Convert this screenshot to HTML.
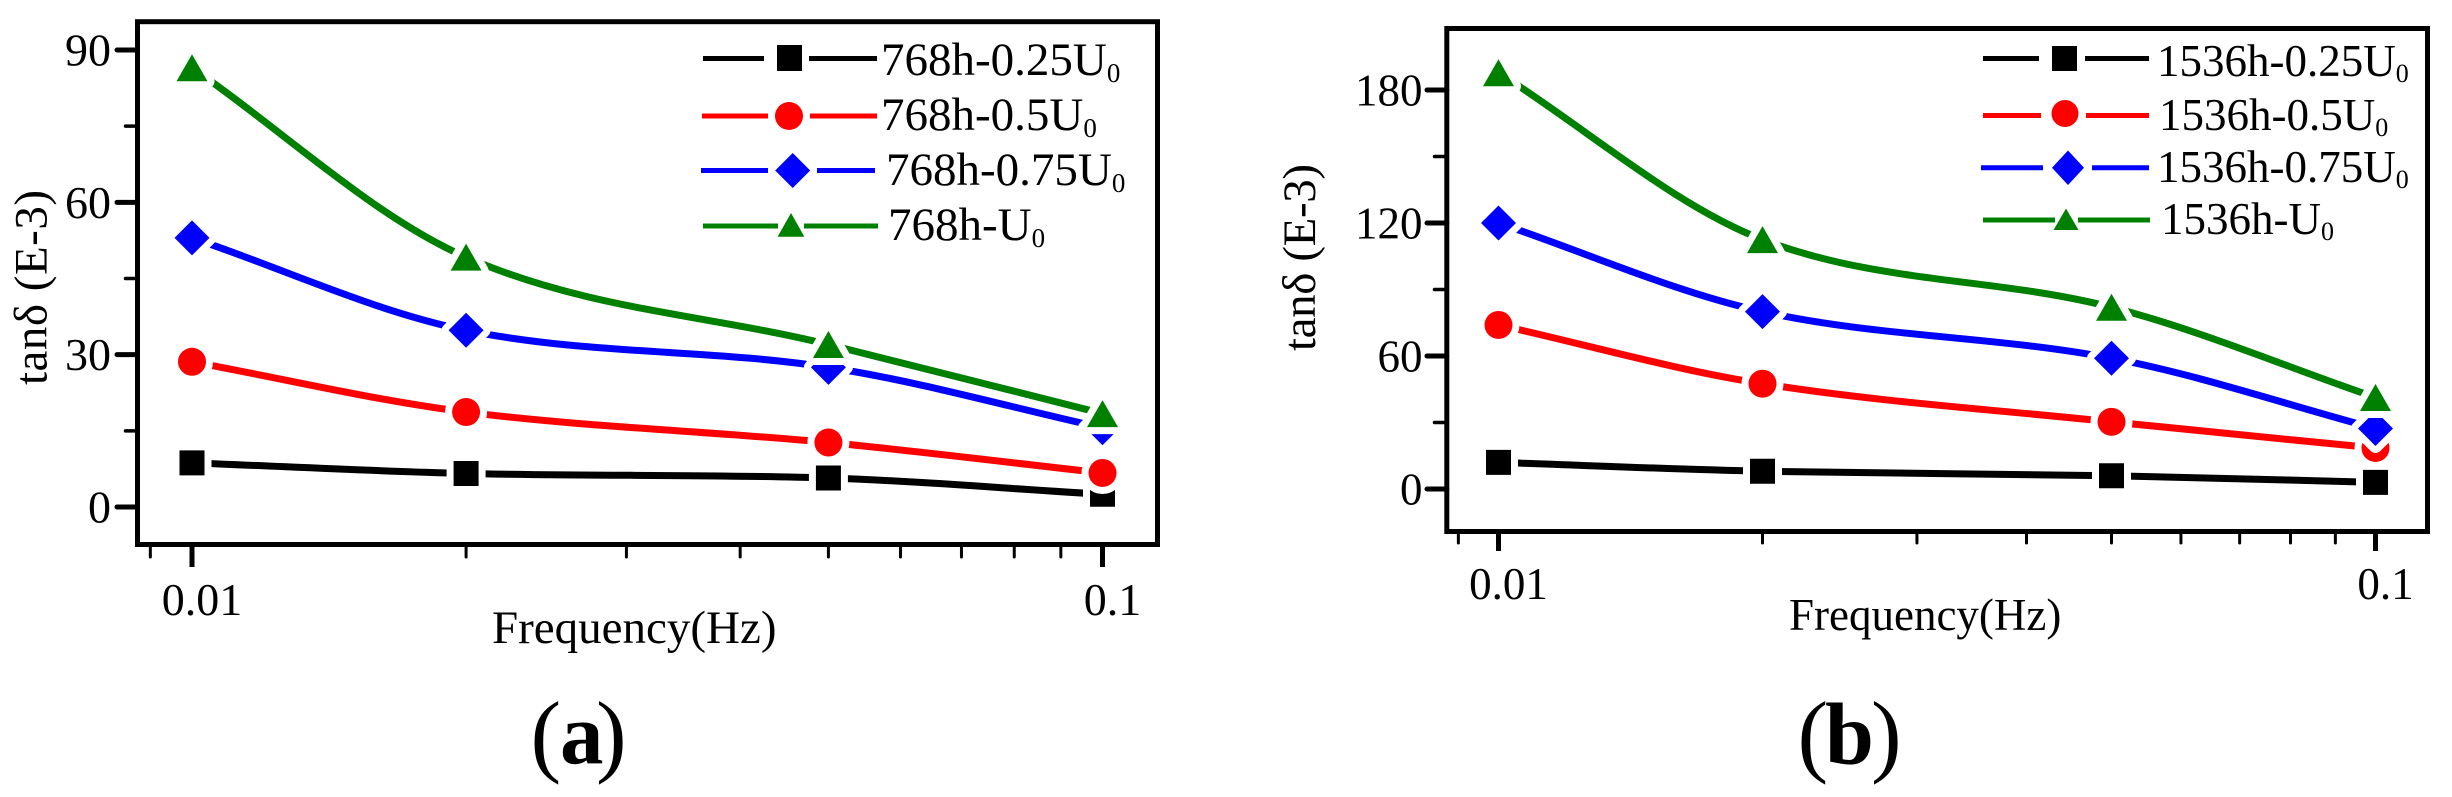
<!DOCTYPE html>
<html lang="en">
<head>
<meta charset="utf-8">
<title>tan delta versus frequency</title>
<style>
html,body{margin:0;padding:0;background:#fff;}
svg{display:block;}
text{font-family:"Liberation Serif",serif;fill:#000;}
</style>
</head>
<body>
<svg id="figure" xmlns="http://www.w3.org/2000/svg" width="2452" height="797" viewBox="0 0 2452 797">
  <rect width="2452" height="797" fill="#fff"/>
  <g id="panel-a"></g>
  <g id="panel-b"></g>

  <g>
    <text transform="translate(46.5,385) rotate(-90)" font-size="47" textLength="195" lengthAdjust="spacing">tanδ (E-3)</text>
    <text x="492" y="643" font-size="47">Frequency(Hz)</text>
    <text font-size="92"><tspan x="530.5" y="765">(</tspan><tspan x="560" y="763.5" font-size="87" font-weight="bold">a</tspan><tspan x="596" y="765">)</tspan></text>
  </g>
  <g>
    <text transform="translate(1315,351) rotate(-90)" font-size="47" textLength="187" lengthAdjust="spacing">tanδ (E-3)</text>
    <text x="1789" y="630" font-size="45">Frequency(Hz)</text>
    <text font-size="92"><tspan x="1797.5" y="765">(</tspan><tspan x="1825" y="763.5" font-size="88" font-weight="bold">b</tspan><tspan x="1871" y="765">)</tspan></text>
  </g>

  <g font-size="47">
    <g>
      <path d="M703 58.5H764M809 58.5H877" stroke="#000" stroke-width="5" fill="none"/>
      <rect x="777" y="45" width="25" height="26" fill="#000"/>
      <text x="881" y="75">768h-0.25U<tspan font-size="27" dy="7">0</tspan></text>
    </g>
    <g>
      <path d="M702 116H768M810 116H877" stroke="#f00" stroke-width="5" fill="none"/>
      <circle cx="789" cy="116" r="14" fill="#f00"/>
      <text x="881" y="130">768h-0.5U<tspan font-size="27" dy="7">0</tspan></text>
    </g>
    <g>
      <path d="M701 170.5H768M817 170.5H875" stroke="#00f" stroke-width="5" fill="none"/>
      <polygon points="792.7,153 810.2,170.5 792.7,188 775.2,170.5" fill="#00f"/>
      <text x="886" y="185">768h-0.75U<tspan font-size="27" dy="7">0</tspan></text>
    </g>
    <g>
      <path d="M703 226H778M804 226H878" stroke="#008000" stroke-width="5" fill="none"/>
      <polygon points="791,213 804.4,236.7 777.6,236.7" fill="#008000"/>
      <text x="888" y="240">768h-U<tspan font-size="27" dy="7">0</tspan></text>
    </g>
  </g>

  <g font-size="45">
    <g>
      <path d="M1983 58.5H2039M2085 58.5H2149" stroke="#000" stroke-width="5" fill="none"/>
      <rect x="2052" y="46" width="25" height="25" fill="#000"/>
      <text x="2157" y="76">1536h-0.25U<tspan font-size="26" dy="6">0</tspan></text>
    </g>
    <g>
      <path d="M1983 115.5H2041M2086 115.5H2149" stroke="#f00" stroke-width="5" fill="none"/>
      <circle cx="2065" cy="113.5" r="13.5" fill="#f00"/>
      <text x="2159" y="130">1536h-0.5U<tspan font-size="26" dy="6">0</tspan></text>
    </g>
    <g>
      <path d="M1981 167.8H2043M2092 167.8H2149" stroke="#00f" stroke-width="5" fill="none"/>
      <polygon points="2068,150.5 2084,167.8 2068,185 2052,167.8" fill="#00f"/>
      <text x="2157" y="182">1536h-0.75U<tspan font-size="26" dy="6">0</tspan></text>
    </g>
    <g>
      <path d="M1983 220H2055M2078 220H2150" stroke="#008000" stroke-width="5" fill="none"/>
      <polygon points="2066,208.5 2078.5,230 2053.5,230" fill="#008000"/>
      <text x="2161" y="234">1536h-U<tspan font-size="26" dy="6">0</tspan></text>
    </g>
  </g>
</svg>
<script>
var frequencies = [0.01, 0.02, 0.05, 0.1];
var xMinorValues = [0.009, 0.02, 0.03, 0.04, 0.05, 0.06, 0.07, 0.08, 0.09];
var xMajorValues = [0.01, 0.1];
var xMajorLabels = ["0.01", "0.1"];

var seriesNames = ["quarter-u0", "half-u0", "three-quarter-u0", "full-u0"];
var seriesColors = ["#000", "#f00", "#00f", "#008000"];
var seriesShapes = ["square", "circle", "diamond", "triangle"];

var a768hQuarter = [8.7, 6.6, 5.7, 2.5];
var a768hHalf = [28.6, 18.7, 12.7, 6.7];
var a768hThreeQuarter = [53, 34.8, 27.5, 15.6];
var a768hFull = [86.5, 49.2, 32, 18.4];
var aYMajor = [0, 30, 60, 90];
var aYMinor = [15, 45, 75];

var b1536hQuarter = [12, 8, 6, 3];
var b1536hHalf = [74, 47.5, 30.3, 18.5];
var b1536hThreeQuarter = [120, 80, 59, 27.3];
var b1536hFull = [187.8, 112.5, 82, 41.3];
var bYMajor = [0, 60, 120, 180];
var bYMinor = [30, 90, 150];

var NS = "http://www.w3.org/2000/svg";

function make(tag, attrs, parent) {
  var el = document.createElementNS(NS, tag);
  for (var k in attrs) { el.setAttribute(k, attrs[k]); }
  parent.appendChild(el);
  return el;
}

function smoothPath(pts) {
  var d = "M" + pts[0][0] + " " + pts[0][1];
  for (var i = 0; i < pts.length - 1; i++) {
    var p0 = pts[Math.max(i - 1, 0)];
    var p1 = pts[i];
    var p2 = pts[i + 1];
    var p3 = pts[Math.min(i + 2, pts.length - 1)];
    var dx = p2[0] - p1[0];
    var m1 = (p2[1] - p0[1]) / (p2[0] - p0[0]);
    var m2 = (p3[1] - p1[1]) / (p3[0] - p1[0]);
    d += "C" + (p1[0] + dx / 3) + " " + (p1[1] + m1 * dx / 3) + " " +
      (p2[0] - dx / 3) + " " + (p2[1] - m2 * dx / 3) + " " + p2[0] + " " + p2[1];
  }
  return d;
}

function markerPoints(shape, x, y) {
  if (shape === "diamond") {
    return [[x, y - 17.5], [x + 17.5, y], [x, y + 17.5], [x - 17.5, y]];
  }
  if (shape === "triangle") {
    return [[x, y - 13.5], [x + 15.5, y + 13.5], [x - 15.5, y + 13.5]];
  }
  return [[x - 12.5, y - 12.5], [x + 12.5, y - 12.5], [x + 12.5, y + 12.5], [x - 12.5, y + 12.5]];
}

function drawMarker(parent, shape, x, y, color) {
  var layers = [["#fff", 14], [color, 0]];
  for (var i = 0; i < layers.length; i++) {
    var el;
    if (shape === "circle") {
      el = make("circle", { cx: x, cy: y, r: 14 }, parent);
    } else {
      var pts = markerPoints(shape, x, y).map(function (p) { return p.join(","); }).join(" ");
      el = make("polygon", { points: pts }, parent);
    }
    el.setAttribute("fill", layers[i][0]);
    el.setAttribute("stroke", layers[i][0]);
    el.setAttribute("stroke-width", layers[i][1]);
    el.setAttribute("stroke-linejoin", "round");
  }
}

function drawTick(parent, x1, y1, x2, y2, width) {
  var t = make("line", { x1: x1, y1: y1, x2: x2, y2: y2 }, parent);
  t.setAttribute("stroke", "#000");
  t.setAttribute("stroke-width", width);
  t.setAttribute("stroke-linecap", "round");
  return t;
}

function drawPanel(root, g, values, yMajor, yMinor) {
  var xScale = function (f) { return g.x01 + Math.log(f / 0.01) / Math.LN10 * (g.x1 - g.x01); };
  var yScale = function (v) { return g.y0 - v / g.yTop * (g.y0 - g.yTopPx); };

  var frame = make("rect", { x: g.left, y: g.top, width: g.right - g.left, height: g.bottom - g.top, fill: "none", stroke: "#000", "stroke-width": 5 }, root);
  
  

  var yAxis = make("g", {}, root);
  
  
  yMajor.forEach(function (v) {
    var t = drawTick(yAxis, g.yMajorEnd, yScale(v), g.left, yScale(v), 5);
    
    
    var lab = make("text", { x: g.yLabelX, y: yScale(v) + 15.5, "font-size": g.tickFont, "text-anchor": "end" }, yAxis);
    lab.textContent = String(v);
    
    
  });
  yMinor.forEach(function (v) {
    var t = drawTick(yAxis, g.yMinorEnd, yScale(v), g.left, yScale(v), 3.5);
    
    
  });

  var xAxis = make("g", {}, root);
  
  
  xMinorValues.forEach(function (f) {
    var t = drawTick(xAxis, xScale(f), g.bottom, xScale(f), g.xMinorEnd, 3);
    
    
  });
  xMajorValues.forEach(function (f, i) {
    var t = drawTick(xAxis, xScale(f), g.bottom, xScale(f), g.xMajorEnd, 5);
    t.setAttribute("stroke-linecap", "butt");
    
    
    var lab = make("text", { x: xScale(f) + 10, y: g.xLabelY, "font-size": g.tickFont, "text-anchor": "middle" }, xAxis);
    lab.textContent = xMajorLabels[i];
    
    
  });

  values.forEach(function (series, s) {
    var group = make("g", {}, root);
    
    
    var pts = series.map(function (v, i) { return [xScale(frequencies[i]), yScale(v)]; });
    var line = make("path", { d: smoothPath(pts), fill: "none", stroke: seriesColors[s], "stroke-width": 7 }, group);
    
    
    pts.forEach(function (p) {
      var m = make("g", {}, group);
      
      
      drawMarker(m, seriesShapes[s], p[0], p[1], seriesColors[s]);
    });
  });
}

drawPanel(document.getElementById("panel-a"),
  { left: 137.5, right: 1157.5, top: 21.7, bottom: 544.5, x01: 192, x1: 1102.5, y0: 507, yTop: 90, yTopPx: 50,
    yMajorEnd: 117, yMinorEnd: 125.5, xMajorEnd: 567, xMinorEnd: 557, yLabelX: 111, xLabelY: 615, tickFont: 46 },
  [a768hQuarter, a768hHalf, a768hThreeQuarter, a768hFull], aYMajor, aYMinor);

drawPanel(document.getElementById("panel-b"),
  { left: 1446.8, right: 2427.5, top: 28.5, bottom: 531.5, x01: 1498.5, x1: 2375.5, y0: 489, yTop: 180, yTopPx: 90,
    yMajorEnd: 1427, yMinorEnd: 1434.5, xMajorEnd: 551, xMinorEnd: 543, yLabelX: 1422.5, xLabelY: 599, tickFont: 45 },
  [b1536hQuarter, b1536hHalf, b1536hThreeQuarter, b1536hFull], bYMajor, bYMinor);
</script>
</body>
</html>
